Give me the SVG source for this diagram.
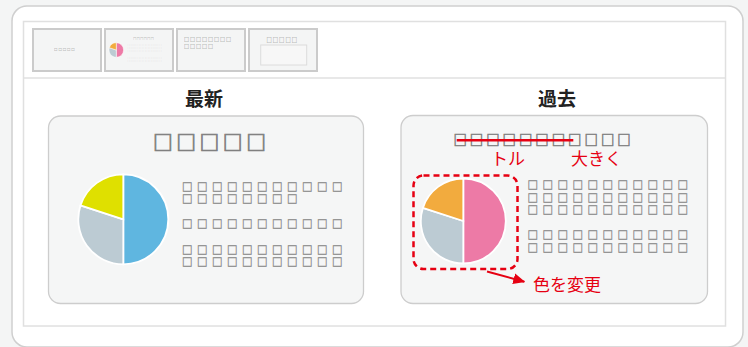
<svg xmlns="http://www.w3.org/2000/svg" width="748" height="347" viewBox="0 0 748 347">
<style>
.sq{font-family:"Noto Sans CJK JP","Noto Sans",sans-serif;fill:#808080;font-weight:bold}
.sqt{stroke:#808080;stroke-width:0.7px}
.sqb{font-family:"Noto Sans CJK JP","Noto Sans",sans-serif;fill:#8e8e8e;stroke:#8e8e8e;stroke-width:0.35px;font-size:10.5px;letter-spacing:4.5px;font-weight:bold}
.thumb{fill:#f4f5f5;stroke:#cbcbcb;stroke-width:2}
.card{fill:#f5f6f6;stroke:#cdcdcd;stroke-width:1.3}
.red{font-family:"Noto Sans CJK JP","Noto Sans",sans-serif;fill:#e60012;font-size:17px}
.head{font-family:"Noto Sans CJK JP","Noto Sans",sans-serif;font-weight:bold;font-size:19px;fill:#222;text-anchor:middle}
.pie path{stroke:#fff;stroke-width:1.8}
.tiny{font-family:"Noto Sans CJK JP",sans-serif;fill:#c4c4c4;font-size:2.5px;letter-spacing:0.65px}
</style>
<defs>
<marker id="ah" markerWidth="12" markerHeight="12" refX="11" refY="6" orient="auto" markerUnits="userSpaceOnUse">
<path d="M0,0.5 L12,6 L0,11.5 Z" fill="#e60012"/>
</marker>
</defs>
<rect width="748" height="347" fill="#f4f5f5"/>
<rect x="12" y="6" width="731" height="341" rx="15" fill="#fff" stroke="#cfcfcf" stroke-width="1.5"/>
<rect x="23.5" y="21.5" width="702" height="304.5" fill="none" stroke="#e0e0e0" stroke-width="1.5"/>
<line x1="23.5" y1="78" x2="725.5" y2="78" stroke="#e0e0e0" stroke-width="1.5"/>

<g id="thumb1">
<rect class="thumb" x="33" y="29" width="68" height="42"/>
<text class="sq" x="54.1" y="50.8" font-size="3.4" letter-spacing="0.9" opacity="0.999">□□□□□</text>
</g>
<g id="thumb2">
<rect class="thumb" x="105" y="29" width="68" height="42" stroke="#e4007f"/>
<text class="sq" x="133.3" y="39.8" font-size="2.9" letter-spacing="0.6" opacity="0.999">□□□□□□</text>
<g>
<path d="M116.3,50 L116.3,42.7 A7.3,7.3 0 0 1 116.3,57.3 Z" fill="#ed7aa6" stroke="#fff" stroke-width="0.5"/>
<path d="M116.3,50 L116.3,57.3 A7.3,7.3 0 0 1 109.4,47.7 Z" fill="#bccbd3" stroke="#fff" stroke-width="0.5"/>
<path d="M116.3,50 L109.4,47.7 A7.3,7.3 0 0 1 116.3,42.7 Z" fill="#f2ab3e" stroke="#fff" stroke-width="0.5"/>
</g>
<g opacity="0.999">
<text class="tiny" x="127.5" y="46.3">□□□□□□□□□□□</text>
<text class="tiny" x="127.5" y="49.3">□□□□□□□□□□□</text>
<text class="tiny" x="127.5" y="52.3">□□□□□□□□□□□</text>
<text class="tiny" x="127.5" y="58.5">□□□□□□□□□□□</text>
<text class="tiny" x="127.5" y="61.5">□□□□□□□□□□□</text>
</g>
</g>
<g id="thumb3">
<rect class="thumb" x="177" y="29" width="68" height="42"/>
<g opacity="0.999">
<text class="sq" x="184" y="41.2" font-size="5" letter-spacing="1">□□□□□□□□</text>
<text class="sq" x="184" y="47.7" font-size="5" letter-spacing="1">□□□□□</text>
</g>
</g>
<g id="thumb4">
<rect class="thumb" x="249" y="29" width="68" height="42"/>
<text class="sq" x="266.5" y="42" font-size="5.3" letter-spacing="1" opacity="0.999">□□□□□</text>
<rect x="260.7" y="45" width="46" height="20" fill="#f7f7f7" stroke="#dcdcdc" stroke-width="1"/>
</g>

<text class="head" x="204" y="106">最新</text>
<text class="head" x="557" y="106">過去</text>

<g id="latest">
<rect class="card" x="48.5" y="116" width="315" height="187.5" rx="12"/>
<text class="sq sqt" x="153" y="149.5" font-size="19.8" letter-spacing="3.5" opacity="0.999">□□□□□</text>
<g class="pie">
<path d="M123.3,219.3 L123.3,174.3 A45,45 0 0 1 123.3,264.3 Z" fill="#5fb6e0"/>
<path d="M123.3,219.3 L123.3,264.3 A45,45 0 0 1 80.5,205.4 Z" fill="#bccbd3"/>
<path d="M123.3,219.3 L80.5,205.4 A45,45 0 0 1 123.3,174.3 Z" fill="#dfe000"/>
</g>
<g opacity="0.999">
<text class="sqb" x="182" y="191.2">□□□□□□□□□□□</text>
<text class="sqb" x="182" y="202.8">□□□□□□□□</text>
<text class="sqb" x="182" y="227.8">□□□□□□□□□□□</text>
<text class="sqb" x="182" y="253.5">□□□□□□□□□□□</text>
<text class="sqb" x="182" y="265.5">□□□□□□□□□□□</text>
</g>
</g>

<g id="past">
<rect class="card" x="401" y="115.5" width="306.5" height="188" rx="12"/>
<text class="sq sqt" x="453.4" y="145.4" font-size="13.4" letter-spacing="3" opacity="0.999" style="stroke-width:0.5px">□□□□□□□□□□□</text>
<g class="pie">
<path d="M463.3,221 L463.3,178.5 A42.5,42.5 0 0 1 463.3,263.5 Z" fill="#ed7aa6"/>
<path d="M463.3,221 L463.3,263.5 A42.5,42.5 0 0 1 422.9,207.9 Z" fill="#bccbd3"/>
<path d="M463.3,221 L422.9,207.9 A42.5,42.5 0 0 1 463.3,178.5 Z" fill="#f2ab3e"/>
</g>
<g opacity="0.999">
<text class="sqb" x="527.6" y="189.2">□□□□□□□□□□□</text>
<text class="sqb" x="527.6" y="201.8">□□□□□□□□□□□</text>
<text class="sqb" x="527.6" y="214.2">□□□□□□□□□□□</text>
<text class="sqb" x="527.6" y="239.2">□□□□□□□□□□□</text>
<text class="sqb" x="527.6" y="251.8">□□□□□□□□□□□</text>
</g>
</g>

<g id="annotations">
<line x1="456.7" y1="140.3" x2="573.3" y2="140.3" stroke="#e60012" stroke-width="2.4"/>
<text class="red" x="491" y="165">トル</text>
<text class="red" x="571" y="165">大きく</text>
<rect x="413.5" y="175.5" width="104" height="93.5" rx="10" fill="none" stroke="#e60012" stroke-width="2.5" stroke-dasharray="6,4"/>
<text class="red" x="533" y="291">色を変更</text>
</g>
<g id="connectors">
<line x1="487" y1="271.5" x2="524.3" y2="281.7" stroke="#e60012" stroke-width="2" marker-end="url(#ah)"/>
</g>
</svg>
